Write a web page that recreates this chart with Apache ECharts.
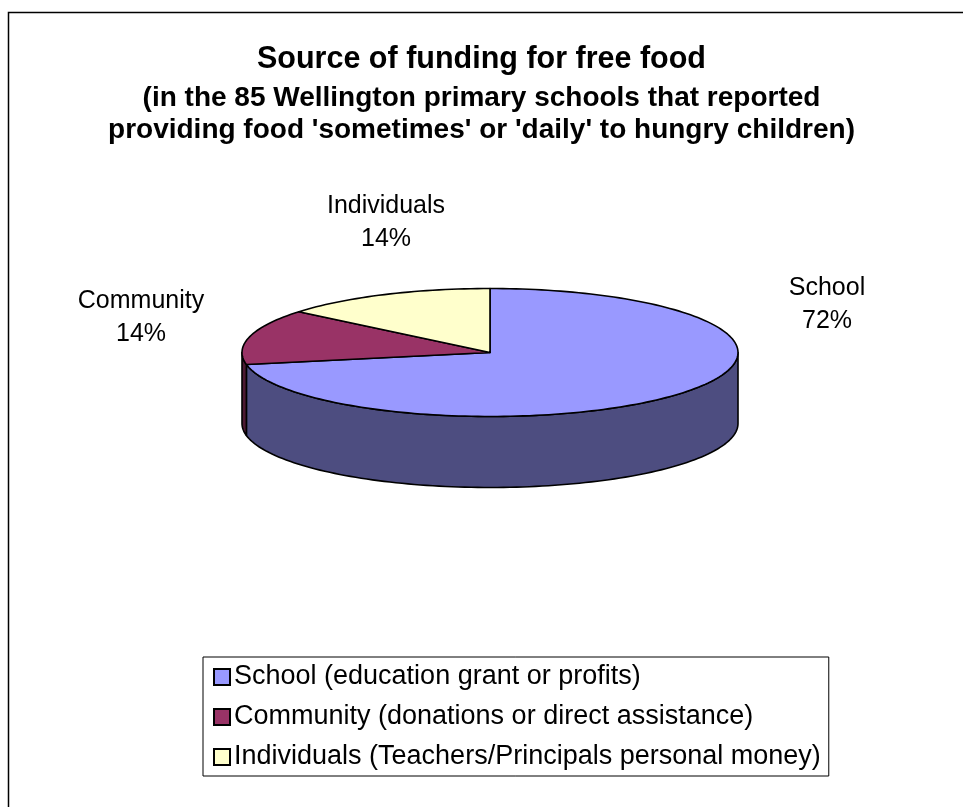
<!DOCTYPE html>
<html><head><meta charset="utf-8">
<script src="https://cdn.jsdelivr.net/npm/echarts@6/dist/echarts.min.js"></script>
<style>html,body{margin:0;padding:0;background:#fff}#c{width:963px;height:807px}</style>
</head><body><div id="c"></div>
<script>
// ---- data ----
const categories = ['School', 'Community', 'Individuals'];
const legendNames = [
  'School (education grant or profits)',
  'Community (donations or direct assistance)',
  'Individuals (Teachers/Principals personal money)'
];
const values = [72, 14, 14];
const titleText = 'Source of funding for free food';
const subtitleText = "(in the 85 Wellington primary schools that reported\nproviding food 'sometimes' or 'daily' to hungry children)";

// ---- style ----
const FONT = '"Liberation Sans", Arial, sans-serif';
const topColors = ['#9999FF', '#993366', '#FFFFCC'];
const sideColors = ['#4D4D80', '#4D1A33', '#80806A'];
const PIE = {cx: 490, cy: 352.5, rx: 248, ry: 64, depth: 71};
const labelOffset = [[337, -48], [-349, -35], [-104, -130]];

const total = values.reduce((a, b) => a + b, 0);

function makeRenderItem(k) {
  return function (params, api) {
    let start = 0;
    for (let i = 0; i < k; i++) start += values[i];
    const v = api.value(0);
    const a0 = start / total * 2 * Math.PI;
    const a1 = (start + v) / total * 2 * Math.PI;
    const pt = (t, dz) => [PIE.cx + PIE.rx * Math.sin(t), PIE.cy - PIE.ry * Math.cos(t) + (dz || 0)];
    const arc = (s, e, dz) => {
      const n = Math.max(2, Math.ceil(240 * (e - s) / (2 * Math.PI)));
      const pts = [];
      for (let j = 0; j <= n; j++) pts.push(pt(s + (e - s) * j / n, dz));
      return pts;
    };
    const children = [];
    const s0 = Math.max(a0, Math.PI / 2), s1 = Math.min(a1, 3 * Math.PI / 2);
    if (s1 > s0) {
      const topArc = arc(s0, s1, 0), botArc = arc(s0, s1, PIE.depth).reverse();
      children.push({type: 'polygon', shape: {points: topArc.concat(botArc)},
        style: {fill: sideColors[k], stroke: '#000', lineWidth: 1.6, lineJoin: 'round'}});
    }
    children.push({type: 'polygon', shape: {points: [[PIE.cx, PIE.cy]].concat(arc(a0, a1, 0))},
      style: {fill: topColors[k], stroke: '#000', lineWidth: 1.6, lineJoin: 'round'}});
    children.push({type: 'text', x: PIE.cx + labelOffset[k][0], y: PIE.cy + labelOffset[k][1],
      style: {text: categories[k] + '\n' + Math.round(v / total * 100) + '%', fill: '#000',
        fontSize: 25, fontFamily: FONT, align: 'center', verticalAlign: 'middle', lineHeight: 33}});
    return {type: 'group', children};
  };
}

const chart = echarts.init(document.getElementById('c'), null, {renderer: 'canvas'});
chart.setOption({
  animation: false,
  backgroundColor: '#fff',
  title: {
    text: titleText, subtext: subtitleText, left: 'center', top: 37, itemGap: 4,
    textStyle: {fontSize: 30.5, fontWeight: 'bold', color: '#000', fontFamily: FONT, lineHeight: 36},
    subtextStyle: {fontSize: 28, fontWeight: 'bold', color: '#000', fontFamily: FONT, lineHeight: 32}
  },
  legend: {
    orient: 'vertical', left: 203, top: 657, data: legendNames, icon: 'rect',
    itemWidth: 16, itemHeight: 16, itemGap: 10, selectedMode: false,
    borderColor: '#000', borderWidth: 1, padding: [5, 8, 4, 10],
    itemStyle: {borderColor: '#000', borderWidth: 2},
    textStyle: {fontSize: 27, color: '#000', fontFamily: FONT, lineHeight: 30, padding: [0, 0, 0, -1]}
  },
  graphic: [{type: 'rect', z: -10, shape: {x: 8.5, y: 12.5, width: 1000, height: 900},
    style: {fill: 'transparent', stroke: '#000', lineWidth: 1.5}}],
  series: categories.map((c, k) => ({
    type: 'custom', name: legendNames[k], coordinateSystem: 'none',
    itemStyle: {color: topColors[k]},
    data: [values[k]],
    renderItem: makeRenderItem(k)
  }))
});
</script></body></html>
